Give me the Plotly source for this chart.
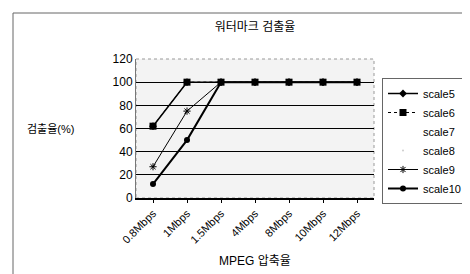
import plotly.graph_objects as go

categories = ["0.8Mbps", "1Mbps", "1.5Mbps", "4Mbps", "8Mbps", "10Mbps", "12Mbps"]
scale5 = [62, 100, 100, 100, 100, 100, 100]
scale6 = [62, 100, 100, 100, 100, 100, 100]
scale7 = [62, 100, 100, 100, 100, 100, 100]
scale8 = [27, 75, 100, 100, 100, 100, 100]
scale9 = [27, 75, 100, 100, 100, 100, 100]
scale10 = [12, 50, 100, 100, 100, 100, 100]
y_ticks = [0, 20, 40, 60, 80, 100, 120]

FONT = "Liberation Sans, Noto Sans CJK KR"

fig = go.Figure()
fig.add_trace(go.Scatter(x=categories, y=scale7, name="scale7", mode="lines",
                         line=dict(color="rgba(255,255,255,0)", width=1)))
fig.add_trace(go.Scatter(x=categories, y=scale8, name="scale8", mode="lines+markers",
                         line=dict(color="rgba(255,255,255,0)", width=1),
                         marker=dict(symbol="circle", size=2, color="#cccccc")))
fig.add_trace(go.Scatter(x=categories, y=scale9, name="scale9", mode="lines+markers",
                         line=dict(color="black", width=1),
                         marker=dict(symbol="asterisk-open", size=6, color="black",
                                     line=dict(color="black", width=1))))
fig.add_trace(go.Scatter(x=categories, y=scale6, name="scale6", mode="lines+markers",
                         line=dict(color="black", width=1, dash="dot"),
                         marker=dict(symbol="square", size=7, color="black")))
fig.add_trace(go.Scatter(x=categories, y=scale5, name="scale5", mode="lines+markers",
                         line=dict(color="black", width=1.5),
                         marker=dict(symbol="diamond", size=6, color="black")))
fig.add_trace(go.Scatter(x=categories, y=scale10, name="scale10", mode="lines+markers",
                         line=dict(color="black", width=2),
                         marker=dict(symbol="circle", size=6, color="black")))

fig.update_layout(
    width=470, height=274,
    margin=dict(l=128, r=104, t=51, b=84, autoexpand=False),
    paper_bgcolor="white",
    plot_bgcolor="#f3f3f3",
    font=dict(family=FONT, size=11, color="black"),
    title=dict(text="워터마크 검출율", x=0.5, xref="paper", xanchor="center",
               y=1 - 19 / 274, yanchor="middle", font=dict(size=12)),
    showlegend=True,
    legend=dict(x=(374 - 128) / 238, y=(190 - 70) / 139, xanchor="left", yanchor="top",
                traceorder="normal", bgcolor="white", bordercolor="#666666",
                borderwidth=1, font=dict(size=11, family=FONT),
                itemwidth=30, tracegroupgap=0),
    xaxis=dict(type="category", categoryorder="array", categoryarray=categories,
               range=[-0.5, 6.5], tickangle=-45, showgrid=False, automargin=False,
               showline=True, linecolor="black", linewidth=1.5, mirror=False,
               ticks="outside", ticklen=3, tickcolor="black",
               tickfont=dict(size=11),
               title=dict(text="MPEG 압축율", font=dict(size=12), standoff=12)),
    yaxis=dict(range=[0, 120], tickvals=y_ticks, showgrid=True, gridcolor="black",
               gridwidth=1, zeroline=False, showline=True, linecolor="#777777",
               linewidth=1, ticks="", tickfont=dict(size=12), automargin=False),
)

fig.add_annotation(text="검출율(%)", xref="paper", yref="paper",
                   x=-86 / 238, y=(190 - 121) / 139, showarrow=False,
                   font=dict(size=11), xanchor="center", yanchor="middle")

# plot-area dotted border
fig.add_shape(type="rect", xref="paper", yref="paper", x0=0, x1=1, y0=0, y1=1,
              line=dict(color="#999999", width=1, dash="dot"), layer="below")

# outer frame
fig.add_shape(type="rect", xref="paper", yref="paper",
              x0=-123 / 238, x1=(469 - 128) / 238, y0=-83 / 139, y1=(190 - 5) / 139,
              line=dict(color="#666666", width=1))

order = ["scale5", "scale6", "scale7", "scale8", "scale9", "scale10"]
for t in fig.data:
    t.legendrank = order.index(t.name)

fig.write_html("out.html")
